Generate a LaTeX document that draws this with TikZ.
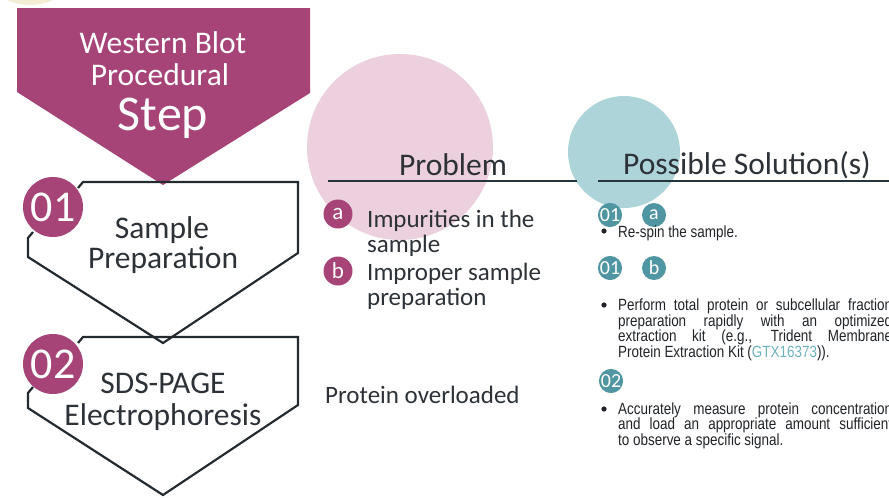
\documentclass[tikz,border=0pt]{standalone}
\usepackage{fontspec}
\setmainfont{Carlito}
\newfontfamily\arialn[FakeStretch=0.83]{Liberation Sans}
\definecolor{mag}{RGB}{166,68,120}
\definecolor{pinkc}{RGB}{236,208,221}
\definecolor{tealc}{RGB}{172,212,217}
\definecolor{tealdot}{RGB}{80,150,162}
\definecolor{beige}{RGB}{243,237,214}
\definecolor{txt}{RGB}{45,50,56}
\definecolor{soltxt}{RGB}{32,36,40}
\definecolor{boxc}{RGB}{35,42,48}
\definecolor{rulec}{RGB}{38,52,60}
\definecolor{gtx}{RGB}{110,178,188}
\begin{document}
\begin{tikzpicture}[x=1pt,y=-1pt,
  outl/.style={draw=boxc, line width=2.2pt, line join=miter},
  hdrtext/.style={font=\fontsize{31.5}{36}\selectfont, text=txt, inner sep=0pt},
  titletext/.style={font=\fontsize{31.5}{36}\selectfont, text=white, inner sep=0pt},
  steptext/.style={font=\fontsize{31.5}{36}\selectfont, text=txt, inner sep=0pt},
  probtext/.style={font=\fontsize{25}{27}\selectfont, text=txt, inner sep=0pt},
  soltext/.style={font=\arialn\fontsize{16.2}{16}\selectfont, text=soltxt, inner sep=0pt},
  bignum/.style={circle, fill=mag, minimum size=60pt, inner sep=0pt, text=white, font=\fontsize{44}{44}\selectfont},
  pnum/.style={circle, fill=mag, minimum size=29pt, inner sep=0pt, text=white, font=\fontsize{23}{23}\selectfont},
  tnum/.style={circle, fill=tealdot, minimum size=24pt, inner sep=0pt, text=white, font=\fontsize{20}{20}\selectfont},
  rulel/.style={draw=rulec, line width=2.2pt},
  bul/.style={fill=soltxt}
]
\useasboundingbox (0,0) rectangle (889,498);
\clip (0,0) rectangle (889,498);
\fill[white] (0,0) rectangle (889,498);
% background circles
\fill[beige] (30,-50) circle (55pt);
\fill[pinkc] (400,147) circle (93pt);
\fill[tealc] (624,152) circle (56pt);
% title arrow
\fill[mag] (17,8) -- (310,8) -- (310,93) -- (163,185) -- (17,92) -- cycle;
\node[titletext, anchor=base] (t1) at (163,53) {Western Blot};
\node[titletext, anchor=base] (t2) at (160,85) {Procedural};
\node[titletext, anchor=base, font=\fontsize{50}{50}\selectfont] (t3) at (163,130) {Step};
% step boxes
\draw[outl] (33,232) -- (28,238) -- (28,257) -- (163,343) -- (298,253) -- (298,182) -- (83,182) -- (78,188);
\draw[outl] (33,387) -- (28,393) -- (28,408) -- (163,495) -- (298,405) -- (298,337) -- (83,337) -- (78,343);
\node[bignum] (n1) at (53,207) {01};
\node[bignum] (n2) at (53,364) {02};
\node[steptext, anchor=base] (s1a) at (162,238) {Sample};
\node[steptext, anchor=base] (s1b) at (163,268) {Preparation};
\node[steptext, anchor=base] (s2a) at (163,393) {SDS-PAGE};
\node[steptext, anchor=base] (s2b) at (163,425) {Electrophoresis};
% headers
\node[hdrtext, anchor=base] (prob) at (453,175) {Problem};
\draw[rulel] (328,181) -- (577,181);
\node[hdrtext, anchor=base] (sol) at (747,174) {Possible Solution(s)};
\draw[rulel] (598,181) -- (895,181);
% problems
\node[pnum] (pa) at (338,214) {a};
\node[pnum] (pb) at (338,271) {b};
\node[probtext, anchor=base west] (p1) at (367,227) {Impurities in the};
\node[probtext, anchor=base west] (p2) at (367,252) {sample};
\node[probtext, anchor=base west] (p3) at (367,280) {Improper sample};
\node[probtext, anchor=base west] (p4) at (367,305) {preparation};
\node[probtext, anchor=base west] (p5) at (325,403) {Protein overloaded};
% solutions
\node[tnum] (s01a) at (610,215) {01};
\node[tnum] (sa) at (654,215) {a};
\fill[bul] (604,231) circle (2.6pt);
\node[soltext, anchor=base west] (r1) at (618,237) {Re-spin the sample.};
\node[tnum] (s01b) at (610,268) {01};
\node[tnum] (sb) at (654,268) {b};
\fill[bul] (604,305) circle (2.6pt);
\node[soltext, anchor=base west] (r2) at (618,310) {\hbox to 274pt{Perform total protein or subcellular fraction}};
\node[soltext, anchor=base west] (r3) at (618,326) {\hbox to 274pt{preparation rapidly with an optimized}};
\node[soltext, anchor=base west] (r4) at (618,341) {\hbox to 274pt{extraction kit (e.g., Trident Membrane}};
\node[soltext, anchor=base west] (r5) at (618,357) {Protein Extraction Kit ({\color{gtx}GTX16373})).};
\node[tnum] (s02) at (611,381) {02};
\fill[bul] (604,409) circle (2.6pt);
\node[soltext, anchor=base west] (r6) at (618,414) {\hbox to 274pt{Accurately measure protein concentration}};
\node[soltext, anchor=base west] (r7) at (618,429) {\hbox to 274pt{and load an appropriate amount sufficient}};
\node[soltext, anchor=base west] (r8) at (618,445) {to observe a specific signal.};
\end{tikzpicture}
\end{document}
